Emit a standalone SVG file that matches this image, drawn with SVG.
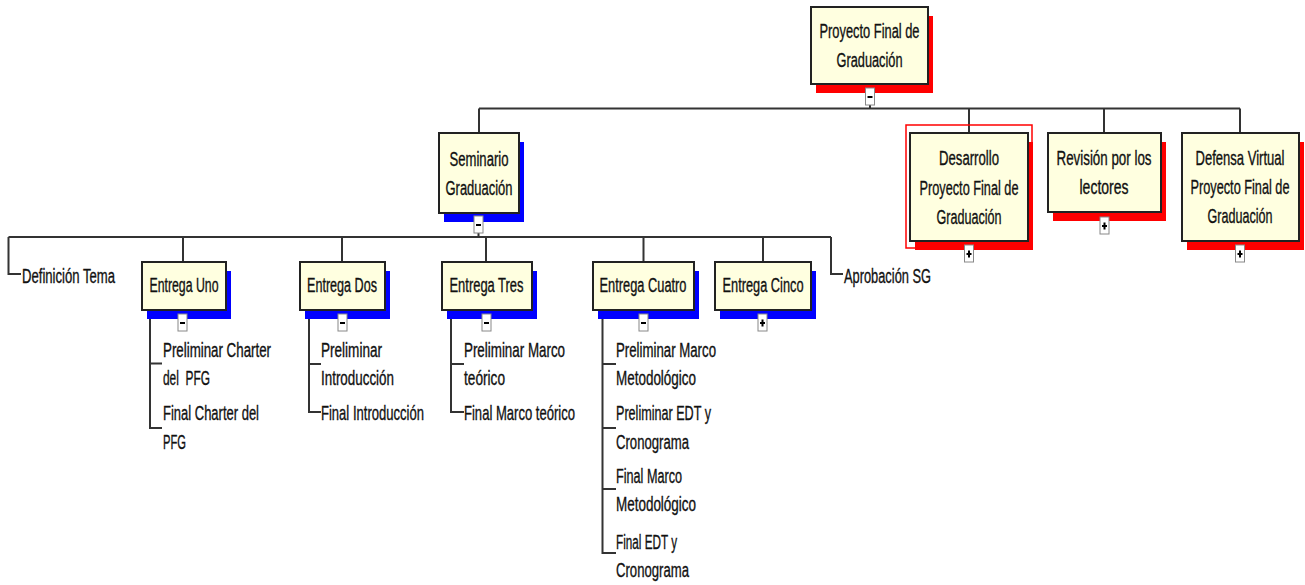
<svg xmlns="http://www.w3.org/2000/svg" width="1305" height="585" viewBox="0 0 1305 585">
<style>
.bg{fill:#fff}
.box{fill:#FFFFE0;stroke:#222;stroke-width:2}
.shr{fill:#FF0000}
.shb{fill:#0000FF}
.t{font-family:"Liberation Sans",Arial,sans-serif;font-size:20px;fill:#111;stroke:#111;stroke-width:0.35}
.c{text-anchor:middle}
.tg{fill:#fff;stroke:#888;stroke-width:1}
.tgs{stroke:#000;stroke-width:2;fill:none}
.ln{stroke:#333;stroke-width:2;fill:none}
.sel{fill:none;stroke:#FF0000;stroke-width:1.5}
</style>
<rect class="bg" x="0" y="0" width="1305" height="585"/>
<g id="connectors">
<path class="ln" d="M870,105 V108.5 M479,108.5 H1240 M479,108.5 V133 M969,108.5 V133 M1104,108.5 V133 M1240,108.5 V133"/>
<path class="ln" d="M478.5,233 V237 M8.5,237 H831 M8.5,237 V274 H21 M183,237 V262 M342,237 V262 M486,237 V262 M643.5,237 V262 M763,237 V262 M831,237 V274 H843"/>
<path class="ln" d="M150,310 V428 H162 M150,363.5 H162"/>
<path class="ln" d="M309,310 V412 H321 M309,364 H321"/>
<path class="ln" d="M451,310 V412 H464 M451,364 H464"/>
<path class="ln" d="M602.5,310 V553 H616 M602.5,364 H616 M602.5,428 H616 M602.5,489 H616"/>
</g>
<g id="n-proyecto">
<rect class="shr" x="816" y="16" width="117" height="77"/>
<rect class="box" x="811" y="7" width="117" height="77"/>
<text class="t c" x="869.5" y="37.5" textLength="100" lengthAdjust="spacingAndGlyphs">Proyecto Final de</text>
<text class="t c" x="869.5" y="66.5" textLength="66" lengthAdjust="spacingAndGlyphs">Graduación</text>
<rect class="tg" x="865.5" y="88" width="9" height="17"/><path class="tgs" d="M867.5,97 H872.5"/>
</g>
<g id="n-seminario">
<rect class="shb" x="444" y="142" width="80" height="80"/>
<rect class="box" x="439" y="133" width="80" height="80"/>
<text class="t c" x="479" y="166" textLength="59" lengthAdjust="spacingAndGlyphs">Seminario</text>
<text class="t c" x="479" y="194.5" textLength="67" lengthAdjust="spacingAndGlyphs">Graduación</text>
<rect class="tg" x="474" y="216" width="9" height="17"/><path class="tgs" d="M476,225 H481"/>
</g>
<g id="n-desarrollo">
<rect class="sel" x="906" y="125" width="126" height="123"/>
<rect class="shr" x="915" y="142" width="118" height="108"/>
<rect class="box" x="910" y="133" width="118" height="108"/>
<text class="t c" x="969" y="165" textLength="60" lengthAdjust="spacingAndGlyphs">Desarrollo</text>
<text class="t c" x="969" y="194.5" textLength="99" lengthAdjust="spacingAndGlyphs">Proyecto Final de</text>
<text class="t c" x="969" y="223.5" textLength="65" lengthAdjust="spacingAndGlyphs">Graduación</text>
<rect class="tg" x="964.5" y="245" width="9" height="17"/><path class="tgs" d="M966.5,254 H971.5 M969,250.5 V257.5"/>
</g>
<g id="n-revision">
<rect class="shr" x="1053" y="142" width="113" height="79"/>
<rect class="box" x="1048" y="133" width="113" height="79"/>
<text class="t c" x="1104" y="165" textLength="95" lengthAdjust="spacingAndGlyphs">Revisión por los</text>
<text class="t c" x="1104" y="194" textLength="49" lengthAdjust="spacingAndGlyphs">lectores</text>
<rect class="tg" x="1100" y="217" width="9" height="17"/><path class="tgs" d="M1102,226 H1107 M1104.5,222.5 V229.5"/>
</g>
<g id="n-defensa">
<rect class="shr" x="1187" y="142" width="117" height="108"/>
<rect class="box" x="1182" y="133" width="117" height="108"/>
<g transform="translate(1240 0) scale(0.62 1)">
<text class="t c" x="0" y="165" textLength="143.5" lengthAdjust="spacingAndGlyphs">Defensa Virtual</text>
<text class="t c" x="0" y="194.5" textLength="159.7" lengthAdjust="spacingAndGlyphs">Proyecto Final de</text>
<text class="t c" x="0" y="223.5" textLength="104.8" lengthAdjust="spacingAndGlyphs">Graduación</text>
</g>
<rect class="tg" x="1235.5" y="245" width="9" height="17"/><path class="tgs" d="M1237.5,254 H1242.5 M1240,250.5 V257.5"/>
</g>
<g id="n-definicion">
<text class="t" x="22" y="283" textLength="93" lengthAdjust="spacingAndGlyphs">Definición Tema</text>
</g>
<g id="n-uno">
<rect class="shb" x="147" y="271" width="84" height="48"/>
<rect class="box" x="142" y="262" width="84" height="48"/>
<text class="t c" x="184" y="292" textLength="69" lengthAdjust="spacingAndGlyphs">Entrega Uno</text>
<rect class="tg" x="178" y="314" width="9" height="17"/><path class="tgs" d="M180,323 H185"/>
</g>
<g id="n-uno-1"><text class="t" x="163" y="357" textLength="108" lengthAdjust="spacingAndGlyphs">Preliminar Charter</text>
<text class="t" x="163" y="385" textLength="47" lengthAdjust="spacingAndGlyphs" style="white-space:pre">del  PFG</text></g>
<g id="n-uno-2"><text class="t" x="163" y="420" textLength="96" lengthAdjust="spacingAndGlyphs">Final Charter del</text>
<text class="t" x="163" y="449" textLength="23" lengthAdjust="spacingAndGlyphs">PFG</text></g>
<g id="n-dos">
<rect class="shb" x="305" y="271" width="85" height="48"/>
<rect class="box" x="300" y="262" width="85" height="48"/>
<text class="t c" x="342" y="292" textLength="70" lengthAdjust="spacingAndGlyphs">Entrega Dos</text>
<rect class="tg" x="338" y="314" width="9" height="17"/><path class="tgs" d="M340,323 H345"/>
</g>
<g id="n-dos-1"><text class="t" x="321" y="357" textLength="61" lengthAdjust="spacingAndGlyphs">Preliminar</text>
<text class="t" x="321" y="385" textLength="73" lengthAdjust="spacingAndGlyphs">Introducción</text></g>
<g id="n-dos-2"><g transform="translate(321 0) scale(0.62 1)"><text class="t" x="0" y="420" textLength="166" lengthAdjust="spacingAndGlyphs">Final Introducción</text></g></g>
<g id="n-tres">
<rect class="shb" x="447" y="271" width="90" height="48"/>
<rect class="box" x="442" y="262" width="90" height="48"/>
<text class="t c" x="486.5" y="292" textLength="74" lengthAdjust="spacingAndGlyphs">Entrega Tres</text>
<rect class="tg" x="482" y="314" width="9" height="17"/><path class="tgs" d="M484,323 H489"/>
</g>
<g id="n-tres-1"><g transform="translate(464 0) scale(0.62 1)"><text class="t" x="0" y="357" textLength="163" lengthAdjust="spacingAndGlyphs">Preliminar Marco</text></g>
<text class="t" x="464" y="385" textLength="41" lengthAdjust="spacingAndGlyphs">teórico</text></g>
<g id="n-tres-2"><g transform="translate(464 0) scale(0.62 1)"><text class="t" x="0" y="420" textLength="179" lengthAdjust="spacingAndGlyphs">Final Marco teórico</text></g></g>
<g id="n-cuatro">
<rect class="shb" x="598" y="271" width="101" height="48"/>
<rect class="box" x="593" y="262" width="101" height="48"/>
<text class="t c" x="643" y="292" textLength="87" lengthAdjust="spacingAndGlyphs">Entrega Cuatro</text>
<rect class="tg" x="639" y="314" width="9" height="17"/><path class="tgs" d="M641,323 H646"/>
</g>
<g id="n-cuatro-1"><text class="t" x="616" y="357" textLength="100" lengthAdjust="spacingAndGlyphs">Preliminar Marco</text>
<text class="t" x="616" y="385" textLength="80" lengthAdjust="spacingAndGlyphs">Metodológico</text></g>
<g id="n-cuatro-2"><text class="t" x="616" y="420" textLength="95" lengthAdjust="spacingAndGlyphs">Preliminar EDT y</text>
<text class="t" x="616" y="449" textLength="73" lengthAdjust="spacingAndGlyphs">Cronograma</text></g>
<g id="n-cuatro-3"><text class="t" x="616" y="483" textLength="66" lengthAdjust="spacingAndGlyphs">Final Marco</text>
<text class="t" x="616" y="511" textLength="80" lengthAdjust="spacingAndGlyphs">Metodológico</text></g>
<g id="n-cuatro-4"><text class="t" x="616" y="549" textLength="61" lengthAdjust="spacingAndGlyphs">Final EDT y</text>
<text class="t" x="616" y="577" textLength="73" lengthAdjust="spacingAndGlyphs">Cronograma</text></g>
<g id="n-cinco">
<rect class="shb" x="720" y="271" width="96" height="48"/>
<rect class="box" x="715" y="262" width="96" height="48"/>
<text class="t c" x="763" y="292" textLength="81" lengthAdjust="spacingAndGlyphs">Entrega Cinco</text>
<rect class="tg" x="758" y="314" width="9" height="17"/><path class="tgs" d="M760,323 H765 M762.5,319.5 V326.5"/>
</g>
<g id="n-aprobacion">
<text class="t" x="844" y="283" textLength="87" lengthAdjust="spacingAndGlyphs">Aprobación SG</text>
</g>
</svg>
